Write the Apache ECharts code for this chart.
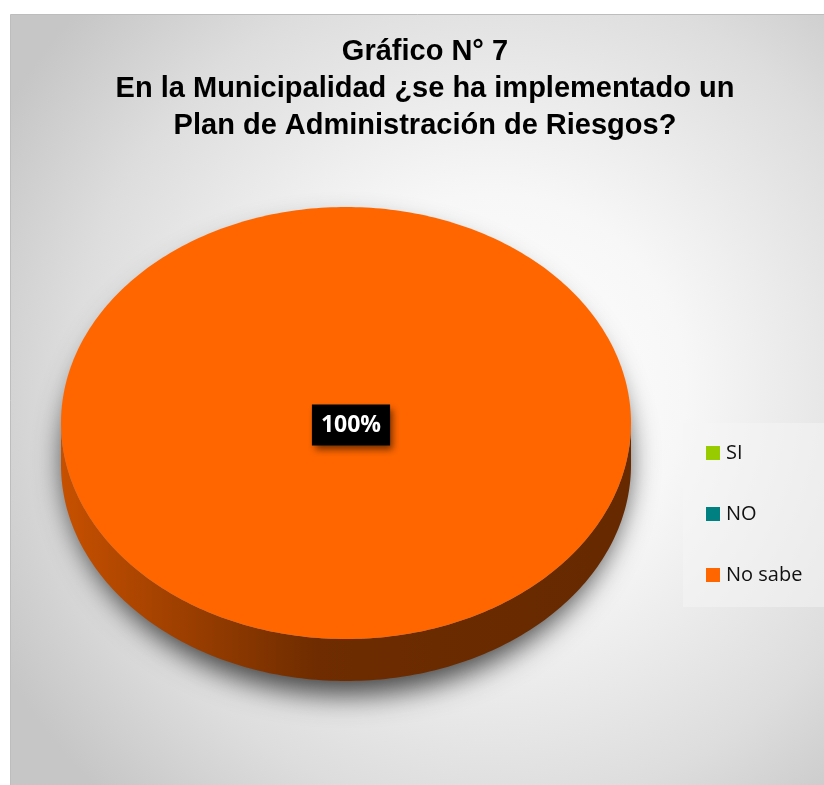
<!DOCTYPE html>
<html>
<head>
<meta charset="utf-8">
<script src="https://cdn.jsdelivr.net/npm/echarts@6/dist/echarts.min.js"></script>
<style>
  html, body { margin: 0; padding: 0; background: #ffffff; }
  #chart { width: 824px; height: 785px; }
</style>
</head>
<body>
<div id="chart"></div>
<script>
// ---- chart data ----
const titleLines = ['Gráfico N° 7', 'En la Municipalidad ¿se ha implementado un', 'Plan de Administración de Riesgos?'];
const categories = ['SI', 'NO', 'No sabe'];
const percentages = [0, 0, 100];
const sliceColors = ['#99CC00', '#008080', '#FF6600'];

// ---- pie geometry (pixels) ----
const PIE = { cx: 346, cy: 423, rx: 285, ry: 216, depth: 42 };
const total = percentages.reduce((a, b) => a + b, 0);

function shade(hex, f) {
  const n = parseInt(hex.slice(1), 16);
  const r = Math.round(((n >> 16) & 255) * f);
  const g = Math.round(((n >> 8) & 255) * f);
  const b = Math.round((n & 255) * f);
  return 'rgb(' + r + ',' + g + ',' + b + ')';
}

function arcPoints(cy, rx, ry, a0, a1) {
  const steps = Math.max(2, Math.ceil((a1 - a0) / (Math.PI / 180)));
  const pts = [];
  for (let k = 0; k <= steps; k++) {
    const a = a0 + (a1 - a0) * k / steps;
    pts.push([PIE.cx + rx * Math.cos(a), cy + ry * Math.sin(a)]);
  }
  return pts;
}

// Draws one slice of the tilted pie: drop shadow, front wall and top face.
function renderSlice(params, api) {
  const i = params.seriesIndex;
  const v = api.value(0);
  if (!v || !total) return null;
  const before = percentages.slice(0, i).reduce((a, b) => a + b, 0);
  const a0 = -Math.PI / 2 + 2 * Math.PI * before / total;
  const a1 = a0 + 2 * Math.PI * v / total;
  const frac = v / total;
  const full = frac >= 0.9999;
  const color = api.visual('color');
  const children = [];

  // soft shadow under the disc (kept inside the disc outline, only its blur shows)
  const shadowPts = arcPoints(PIE.cy + PIE.depth / 2, PIE.rx - 2, PIE.ry + PIE.depth / 2 - 2, a0, a1);
  if (!full) shadowPts.unshift([PIE.cx, PIE.cy + PIE.depth / 2]);
  children.push({
    type: 'polygon', z2: 0, silent: true,
    shape: { points: shadowPts },
    style: { fill: '#8a8a8a', shadowBlur: 28, shadowColor: 'rgba(0,0,0,0.7)', shadowOffsetY: 16 }
  });

  // visible front wall (lower half of the ellipse)
  const s0 = Math.max(a0, 0), s1 = Math.min(a1, Math.PI);
  if (s1 > s0) {
    const topEdge = arcPoints(PIE.cy, PIE.rx, PIE.ry, s0, s1);
    const bottomEdge = arcPoints(PIE.cy + PIE.depth, PIE.rx, PIE.ry, s0, s1).reverse();
    children.push({
      type: 'polygon', z2: 1,
      shape: { points: topEdge.concat(bottomEdge) },
      style: {
        fill: new echarts.graphic.LinearGradient(PIE.cx - PIE.rx, 0, PIE.cx + PIE.rx, 0, [
          { offset: 0, color: shade(color, 0.78) },
          { offset: 0.45, color: shade(color, 0.43) },
          { offset: 1, color: shade(color, 0.40) }
        ], true)
      }
    });
  }

  // top face
  const topPts = arcPoints(PIE.cy, PIE.rx, PIE.ry, a0, a1);
  if (!full) topPts.unshift([PIE.cx, PIE.cy]);
  children.push({
    type: 'polygon', z2: 10,
    shape: { points: topPts },
    style: { fill: color }
  });

  // percentage label
  const mid = (a0 + a1) / 2;
  const lx = full ? PIE.cx + 5 : PIE.cx + 0.6 * PIE.rx * Math.cos(mid);
  const ly = full ? PIE.cy + 2 : PIE.cy + 0.6 * PIE.ry * Math.sin(mid);
  children.push({
    type: 'text', z2: 20,
    x: lx, y: ly,
    style: {
      text: Math.round(frac * 100) + '%',
      fill: '#ffffff',
      font: 'bold 23px "Open Sans", sans-serif',
      align: 'center', verticalAlign: 'middle',
      backgroundColor: '#000000',
      padding: [9, 9, 9, 9],
      shadowBlur: 7, shadowColor: 'rgba(0,0,0,0.55)', shadowOffsetX: 3, shadowOffsetY: 4
    }
  });

  return { type: 'group', children: children };
}

const chart = echarts.init(document.getElementById('chart'), null, { renderer: 'canvas' });

chart.setOption({
  animation: false,
  backgroundColor: '#ffffff',
  graphic: [{
    type: 'rect', z: -10, silent: true,
    shape: { x: 10.5, y: 14.5, width: 830, height: 790 },
    style: {
      fill: new echarts.graphic.RadialGradient(490, 390, 560, [
        { offset: 0, color: '#ffffff' },
        { offset: 0.35, color: '#f7f7f7' },
        { offset: 0.75, color: '#dddddd' },
        { offset: 1, color: '#c6c6c6' }
      ], true),
      stroke: '#bdbdbd', lineWidth: 1
    }
  }],
  title: {
    text: titleLines.join('\n'),
    left: 425,
    textAlign: 'center',
    top: 33,
    padding: 0,
    textStyle: {
      fontFamily: '"Liberation Sans", Arial, sans-serif',
      fontWeight: 'bold',
      fontSize: 29,
      lineHeight: 37,
      color: '#000000'
    }
  },
  legend: {
    orient: 'vertical',
    left: 683,
    top: 423,
    padding: [20, 60, 22, 23],
    backgroundColor: 'rgba(245,245,245,0.5)',
    icon: 'rect',
    itemWidth: 14,
    itemHeight: 14,
    itemGap: 41,
    selectedMode: false,
    data: categories,
    textStyle: {
      fontFamily: '"Open Sans", sans-serif',
      fontSize: 20,
      color: '#111111',
      padding: [0, 0, 0, 1]
    }
  },
  series: categories.map((name, i) => ({
    type: 'custom',
    name: name,
    coordinateSystem: 'none',
    itemStyle: { color: sliceColors[i] },
    data: [[percentages[i]]],
    renderItem: renderSlice
  }))
});
</script>
</body>
</html>
